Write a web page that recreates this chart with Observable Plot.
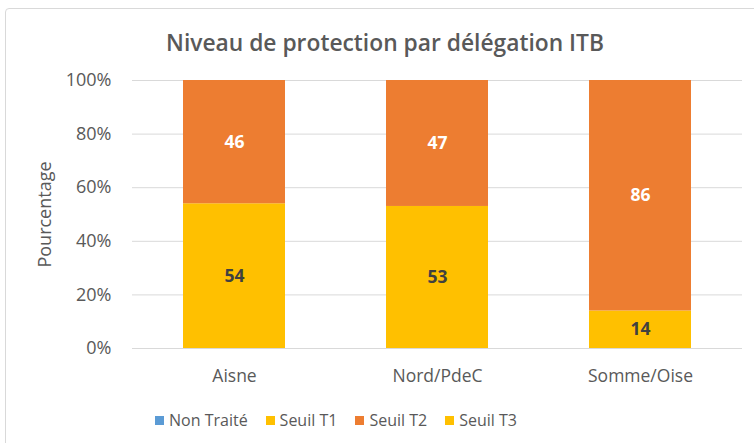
<!DOCTYPE html>
<html><head><meta charset="utf-8">
<script src="https://cdn.jsdelivr.net/npm/d3@7"></script>
<script src="https://cdn.jsdelivr.net/npm/@observablehq/plot@0.6"></script>
<style>
body{margin:0;background:#fff;font-family:"Open Sans",sans-serif;}
#wrap{position:relative;width:754px;height:443px;overflow:hidden;}
#border{position:absolute;left:5px;top:8px;width:760px;height:440px;border:1px solid #D9D9D9;border-radius:4px;box-sizing:border-box;}
#title{position:absolute;left:0;width:770px;top:27px;text-align:center;font-size:22.8px;font-weight:600;color:#595959;line-height:32px;}
#plot{position:absolute;left:0;top:0;}
#legend{position:absolute;left:155px;top:409px;display:flex;gap:0;font-size:16px;color:#595959;line-height:22px;}
.item{display:flex;align-items:center;margin-right:18px;}
.sw{width:9px;height:9px;margin-right:5px;}
</style></head>
<body><div id="wrap"><div id="border"></div><div id="title">Niveau de protection par délégation ITB</div><div id="plot"></div><div id="legend"></div></div>
<script>
const categories = ["Aisne", "Nord/PdeC", "Somme/Oise"];
const seriesNames = ["Non Traité", "Seuil T1", "Seuil T2", "Seuil T3"];
const seriesColors = ["#5B9BD5", "#FFC000", "#ED7D31", "#FFC000"];
const nonTraite = [0, 0, 0];
const seuilT1 = [54, 53, 14];
const seuilT2 = [46, 47, 86];
const seuilT3 = [0, 0, 0];
const yTicks = [0, 20, 40, 60, 80, 100];
const labelColors = ["#404040", "#404040", "#FFFFFF", "#404040"];

const allSeries = [nonTraite, seuilT1, seuilT2, seuilT3];
const data = [];
allSeries.forEach((vals, si) => {
  vals.forEach((v, ci) => data.push({cat: categories[ci], series: seriesNames[si], value: v, si}));
});
const labeled = data.filter(d => d.value > 0);

const chart = Plot.plot({
  width: 754, height: 443,
  marginLeft: 132, marginRight: 12, marginTop: 80, marginBottom: 95,
  style: {fontFamily: "Open Sans, sans-serif", background: "transparent", overflow: "visible"},
  x: {domain: categories, paddingInner: 0.5, paddingOuter: 0.25, label: null},
  y: {domain: [0, 100], ticks: yTicks, label: null},
  color: {domain: seriesNames, range: seriesColors},
  marks: [
    Plot.gridY(yTicks, {stroke: "#D9D9D9", strokeOpacity: 1, strokeWidth: 1}),
    Plot.barY(data, {x: "cat", y: "value", fill: "series", order: seriesNames}),
    Plot.text(labeled, Plot.stackY({x: "cat", y: "value", z: "series", order: seriesNames, text: d => String(d.value),
      fill: d => labelColors[d.si], fontSize: 17.5, fontWeight: "bold"})),
    Plot.axisX({tickSize: 0, tickPadding: 21, fontSize: 17.5, color: "#595959", label: null}),
    Plot.axisY(yTicks, {tickSize: 0, tickPadding: 21, fontSize: 18, color: "#595959", tickFormat: d => d + "%", label: null}),
    Plot.text(["Pourcentage"], {frameAnchor: "left", textAnchor: "middle", lineAnchor: "middle", rotate: -90, dx: -87, fontSize: 18, fill: "#595959"})
  ]
});
document.getElementById("plot").appendChild(chart);

const legend = document.getElementById("legend");
seriesNames.forEach((n, i) => {
  const it = document.createElement("div"); it.className = "item";
  const sw = document.createElement("div"); sw.className = "sw"; sw.style.background = seriesColors[i];
  const t = document.createElement("span"); t.textContent = n;
  it.appendChild(sw); it.appendChild(t); legend.appendChild(it);
});
</script></body></html>
